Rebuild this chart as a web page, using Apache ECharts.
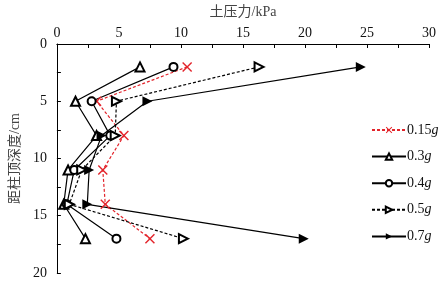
<!DOCTYPE html>
<html>
<head>
<meta charset="utf-8">
<script src="https://cdn.jsdelivr.net/npm/echarts@6/dist/echarts.min.js"></script>
<style>html,body{margin:0;padding:0;background:#fff;}#c{width:439px;height:281px;}</style>
</head>
<body>
<div id="c"></div>
<script>
const depths = [2, 5, 8, 11, 14, 17];
const s015 = [10.5, 3.2, 5.4, 3.7, 3.9, 7.5];
const s03 = [6.7, 1.5, 3.2, 0.9, 0.55, 2.3];
const s04 = [9.4, 2.8, 4.3, 1.4, 0.8, 4.8];
const s05 = [16.3, 4.8, 4.7, 2.0, 1.0, 10.2];
const s07 = [24.5, 7.3, 3.6, 2.6, 2.45, 19.9];
const seriesNames = ['0.15g', '0.3g', '0.4g', '0.5g', '0.7g'];
const xTitle = '土压力/kPa';
const yTitle = '距柱顶深度/cm';

const serif = '"Liberation Serif", "Noto Sans CJK SC", serif';
const xPath = 'path://M0,1L1,0L5,4L9,0L10,1L6,5L10,9L9,10L5,6L1,10L0,9L4,5Z';

function pairs(vals) { return vals.map((v, i) => [v, depths[i]]); }

function mk(name, vals, opts) {
  return Object.assign({
    name: name,
    type: 'line',
    data: pairs(vals),
    symbolSize: 9,
    lineStyle: { color: '#000', width: 1.2, type: 'solid' },
    itemStyle: { color: '#000', borderColor: '#000', borderWidth: 1.3 },
    animation: false,
    z: 3
  }, opts);
}

const series = [
  mk(seriesNames[0], s015, {
    symbol: xPath, symbolSize: 10,
    lineStyle: { color: '#e3242b', width: 1.2, type: [3, 2] },
    itemStyle: { color: '#e3242b', borderWidth: 0 }
  }),
  mk(seriesNames[1], s03, { symbol: 'emptyTriangle', symbolSize: 9 }),
  mk(seriesNames[2], s04, { symbol: 'emptyCircle', symbolSize: 8 }),
  mk(seriesNames[3], s05, {
    symbol: 'emptyTriangle', symbolRotate: -90, symbolSize: 9,
    lineStyle: { color: '#000', width: 1.2, type: [3, 2] }
  }),
  mk(seriesNames[4], s07, {
    symbol: 'triangle', symbolRotate: -90, symbolSize: 10,
    itemStyle: { color: '#000', borderWidth: 0 }
  })
];

const chart = echarts.init(document.getElementById('c'), null, { renderer: 'canvas' });
chart.setOption({
  backgroundColor: '#fff',
  animation: false,
  grid: { left: 49, right: 10, top: 39, bottom: 8, containLabel: false },
  xAxis: {
    type: 'value', position: 'top', min: 0, max: 30, interval: 2.5,
    name: xTitle, nameLocation: 'middle', nameGap: 25,
    nameTextStyle: { fontFamily: serif, fontSize: 14, color: '#444' },
    axisLine: { show: true, lineStyle: { color: '#000', width: 1 } },
    axisTick: { show: true, inside: true, length: 4, lineStyle: { color: '#000' } },
    axisLabel: {
      margin: 4, fontFamily: serif, fontSize: 14, color: '#111',
      formatter: v => (v % 5 === 0 ? String(v) : '')
    },
    splitLine: { show: false }
  },
  yAxis: {
    type: 'value', inverse: true, min: 0, max: 20, interval: 2.5,
    name: yTitle, nameLocation: 'middle', nameGap: 30, nameRotate: 90,
    nameTextStyle: { fontFamily: serif, fontSize: 14, color: '#444' },
    axisLine: { show: true, onZero: false, lineStyle: { color: '#000', width: 1 } },
    axisTick: { show: true, inside: true, length: 4, lineStyle: { color: '#000' } },
    axisLabel: {
      margin: 10, fontFamily: serif, fontSize: 14, color: '#111',
      formatter: v => (v % 5 === 0 ? String(v) : '')
    },
    splitLine: { show: false }
  },
  legend: {
    orient: 'vertical', left: 366, top: 118,
    itemWidth: 34, itemHeight: 8, itemGap: 12.6,
    data: seriesNames,
    formatter: n => '{a|' + n.slice(0, -1) + '}{b|g}',
    textStyle: {
      fontFamily: serif, fontSize: 14, color: '#111', padding: [0, 0, 0, -4],
      rich: {
        a: { fontFamily: serif, fontSize: 14, color: '#111' },
        b: { fontFamily: serif, fontSize: 14, fontStyle: 'italic', color: '#111' }
      }
    }
  },
  series: series
});
</script>
</body>
</html>
